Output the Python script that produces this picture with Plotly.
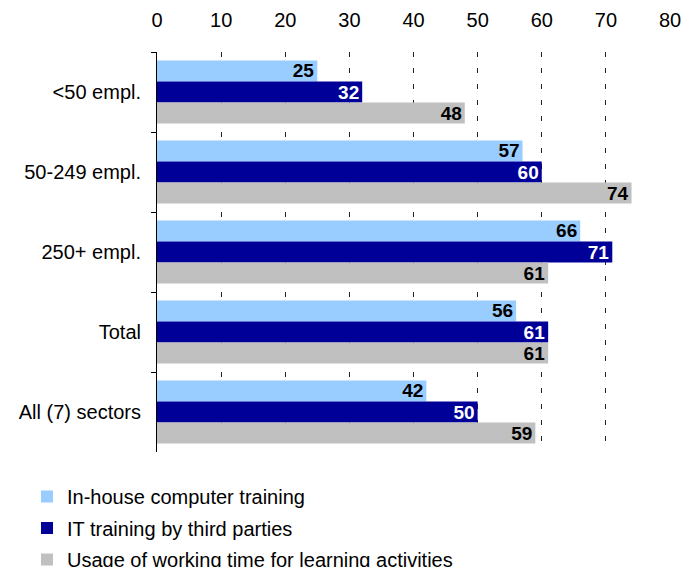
import plotly.graph_objects as go

categories = ["<50 empl.", "50-249 empl.", "250+ empl.", "Total", "All (7) sectors"]
series_names = [
    "In-house computer training",
    "IT training by third parties",
    "Usage of working time for learning activities",
]
inhouse = [25, 57, 66, 56, 42]
third_party = [32, 60, 71, 61, 50]
working_time = [48, 74, 61, 61, 59]
x_ticks = [0, 10, 20, 30, 40, 50, 60, 70, 80]

colors = ["#99CCFF", "#000099", "#C0C0C0"]
label_colors = ["#000000", "#FFFFFF", "#000000"]
FONT = "Arial, Liberation Sans, sans-serif"
FS = 20

W, H = 684, 567
LEGEND_TOP = 477  # pixel row of the legend's top edge (container-anchored)

fig = go.Figure()
for i, (name, vals) in enumerate(zip(series_names, [inhouse, third_party, working_time])):
    fig.add_trace(go.Bar(
        y=categories, x=vals, orientation="h", name=name,
        legendgroup=f"g{i}",
        marker=dict(color=colors[i], line=dict(width=0)),
        text=[str(v) for v in vals],
        textposition="inside", insidetextanchor="end",
        constraintext="none",
        textfont=dict(family=FONT, size=19, color=label_colors[i], weight="bold"),
        hoverinfo="skip",
    ))

fig.update_layout(
    width=W, height=H,
    margin=dict(l=157, r=14, t=52, b=115),
    barmode="group", bargap=0.21, bargroupgap=0,
    plot_bgcolor="white", paper_bgcolor="white",
    font=dict(family=FONT, size=FS, color="#000000"),
    showlegend=True,
    legend=dict(
        xref="paper", yref="container",
        x=-0.2534, xanchor="left", y=(H - LEGEND_TOP) / H, yanchor="top",
        orientation="v", traceorder="grouped", tracegroupgap=2.5,
        font=dict(family=FONT, size=FS, color="#000000"),
        bgcolor="rgba(0,0,0,0)", borderwidth=0,
    ),
    xaxis=dict(
        side="top", range=[0, 80], tickvals=x_ticks,
        ticktext=[str(t) for t in x_ticks],
        showgrid=True, gridcolor="#222222", gridwidth=1, griddash="5px,11px",
        zeroline=False, showline=False, ticks="",
        tickfont=dict(family=FONT, size=FS, color="#000000"),
        ticklabelstandoff=20, automargin=False,
    ),
    yaxis=dict(
        autorange="reversed", tickson="boundaries", ticks="outside",
        ticklen=5, tickcolor="#000000", tickwidth=1,
        showline=True, linecolor="#000000", linewidth=1,
        showgrid=False, zeroline=False,
        tickfont=dict(family=FONT, size=FS, color="#000000"),
        ticklabelstandoff=11, automargin=False,
    ),
)

fig.write_html("out.html")
